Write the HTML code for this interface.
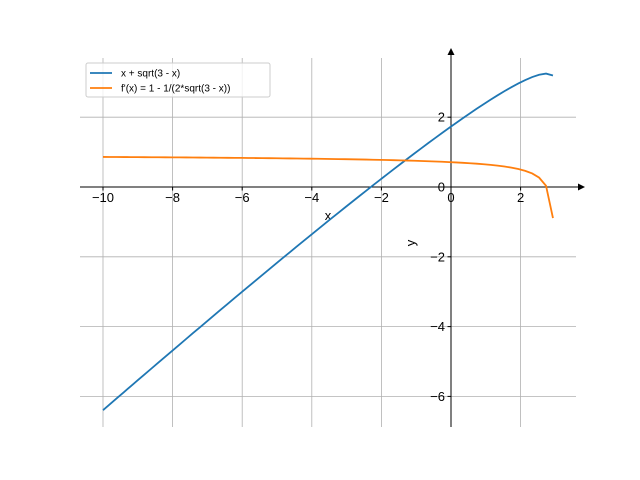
<!DOCTYPE html>
<html><head><meta charset="utf-8"><style>
body{margin:0;background:#fff}
svg{display:block;font-family:"Liberation Sans","DejaVu Sans",sans-serif}
</style></head><body>
<svg id="s" width="640" height="480" viewBox="0 0 640 480">
<g stroke="#b0b0b0" stroke-width="0.8" id="grid"></g>
<line x1="80" y1="187" x2="580" y2="187" stroke="#000" stroke-width="1"/>
<polygon points="585,187 578,183.5 578,190.5" fill="#000"/>
<line x1="451" y1="427" x2="451" y2="54" stroke="#000" stroke-width="1"/>
<polygon points="451,48 447.5,55 454.5,55" fill="#000"/>
<g id="ticks" font-size="13" fill="#000"></g>
<text x="328" y="220" font-size="13" text-anchor="middle">x</text>
<text x="415" y="243" font-size="13" text-anchor="middle" transform="rotate(-90 415 243)">y</text>
<path id="b" fill="none" stroke="#1f77b4" stroke-width="1.8"/>
<path id="o" fill="none" stroke="#ff7f0e" stroke-width="1.8"/>
<rect x="86" y="63" width="184" height="34" fill="#fff" fill-opacity="0.8" stroke="#ccc" stroke-width="1" rx="2"/>
<line x1="90" y1="73" x2="112" y2="73" stroke="#1f77b4" stroke-width="1.8"/>
<text x="121" y="76.5" font-size="10">x + sqrt(3 - x)</text>
<line x1="90" y1="88" x2="112" y2="88" stroke="#ff7f0e" stroke-width="1.8"/>
<text x="121" y="91.5" font-size="10">f'(x) = 1 - 1/(2*sqrt(3 - x))</text>
</svg>
<script>
var X=function(x){return 451+34.8*x},Y=function(y){return 187-34.9*y};
var g=document.getElementById('grid'),t=document.getElementById('ticks'),ns="http://www.w3.org/2000/svg";
function el(p,n,a,txt){var e=document.createElementNS(ns,n);for(var k in a)e.setAttribute(k,a[k]);if(txt!=null)e.textContent=txt;p.appendChild(e);}
for(var i=-10;i<=2;i+=2){el(g,'line',{x1:X(i),x2:X(i),y1:58,y2:427});el(t,'line',{x1:X(i),x2:X(i),y1:187,y2:190.5,stroke:'#000'});el(t,'text',{x:X(i),y:202,'text-anchor':'middle'},(i<0?'\u2212'+(-i):i));}
for(var j=-6;j<=2;j+=2){el(g,'line',{x1:80,x2:576,y1:Y(j),y2:Y(j)});el(t,'line',{x1:447.5,x2:451,y1:Y(j),y2:Y(j),stroke:'#000'});el(t,'text',{x:445,y:Y(j)+4.5,'text-anchor':'end'},(j<0?'\u2212'+(-j):j));}
var b="",o="",N=65;for(var k=0;k<=N;k++){var x=-10+12.93*k/N;var r=Math.sqrt(3-x);b+=(k?"L":"M")+X(x).toFixed(2)+","+Y(x+r).toFixed(2);o+=(k?"L":"M")+X(x).toFixed(2)+","+Y(1-1/(2*r)).toFixed(2);}
document.getElementById('b').setAttribute('d',b);document.getElementById('o').setAttribute('d',o);
</script>
</body></html>
